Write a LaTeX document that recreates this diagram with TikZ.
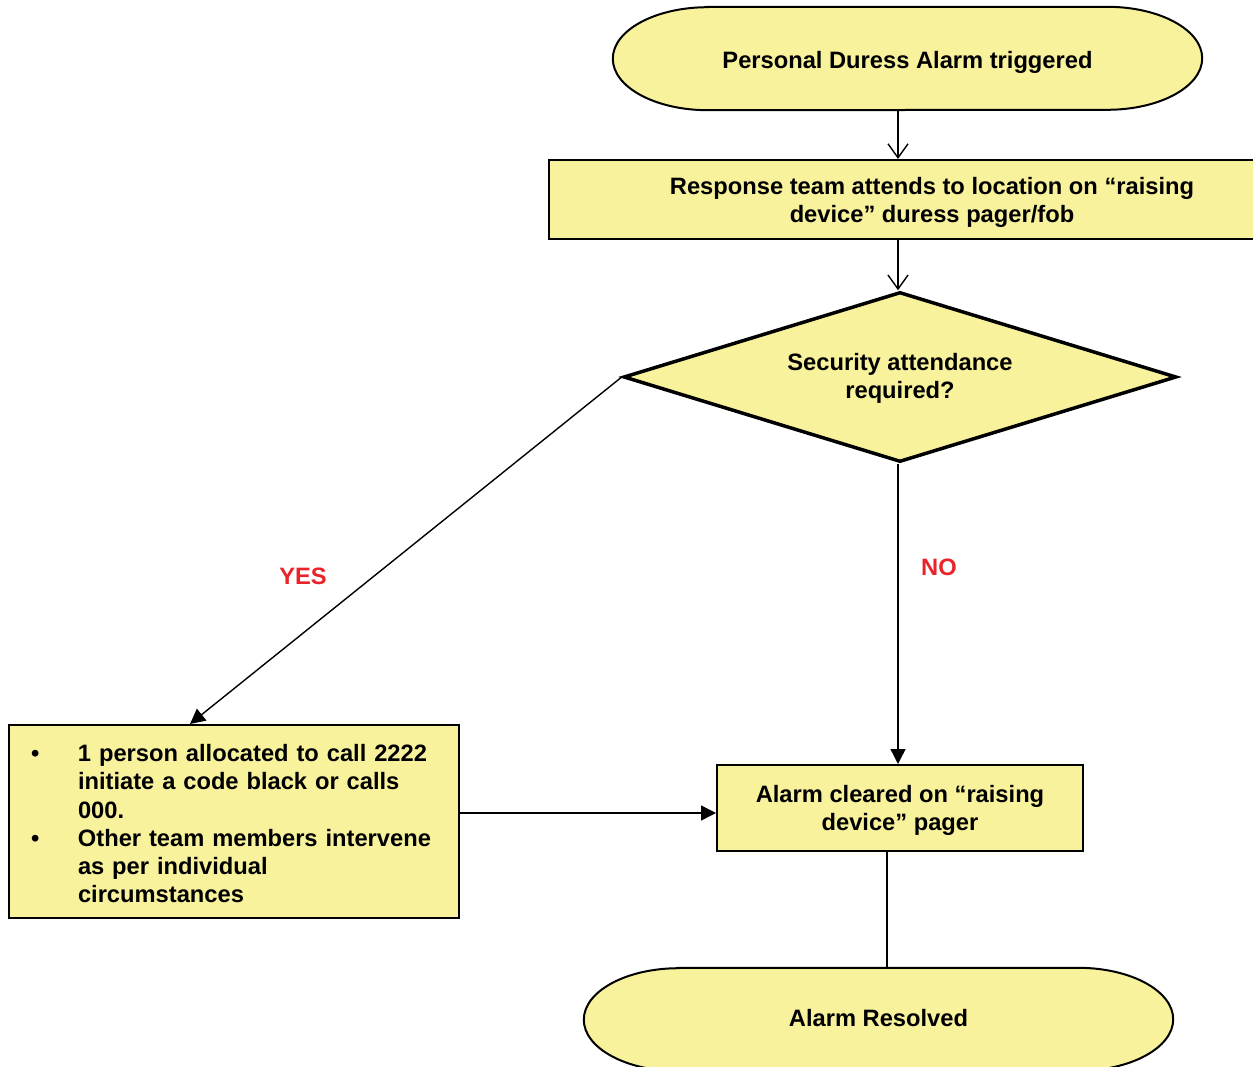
\documentclass[tikz,border=0pt]{standalone}
\usepackage{fontspec}
\setmainfont{Liberation Sans}
\usetikzlibrary{arrows.meta,shapes.geometric}
\definecolor{fillY}{HTML}{F8F29C}
\definecolor{labR}{HTML}{E8232A}
\pgfdeclarelayer{bg}
\pgfsetlayers{bg,main}
\newcommand\shtext[2]{\raisebox{-#1pt}[\height][\depth]{\begin{tabular}{@{}c@{}}#2\end{tabular}}}
\begin{document}
\begin{tikzpicture}[x=1pt,y=-1pt,
  every node/.style={font=\fontsize{23.7}{28.2}\selectfont\bfseries},
  box/.style={draw, fill=fillY, line width=2pt, inner sep=0pt, align=center},
  termnode/.style={inner sep=0pt, minimum width=589pt, minimum height=103pt, align=center},
  termline/.style={draw, fill=fillY, line width=2pt},
  decision/.style={diamond, draw, fill=fillY, line width=3.5pt, inner sep=0pt, aspect=3.2,
    minimum width=553pt, minimum height=170pt, align=center},
  conn/.style={line width=1.4pt},
  openarrow/.style={conn, -{Straight Barb[length=14pt,width=20pt,line width=1.4pt]}},
  fillarrow/.style={conn, -{Triangle[length=15pt,width=15pt]}},
  lab/.style={text=labR}
]
\useasboundingbox (0,0) rectangle (1253,1067);
\clip (0,0) rectangle (1253,1067);

% terminals
\node[termnode] (t1) at (907.5,58.5) {\shtext{4}{Personal Duress Alarm triggered}};
\node[termnode] (t2) at (878.5,1019.5) {\shtext{1}{Alarm Resolved}};
\begin{pgfonlayer}{bg}
\foreach \t in {t1,t2}{
  \draw[termline] ([xshift=95pt]\t.north west) -- ([xshift=-95pt]\t.north east)
    arc[start angle=-90,end angle=90,x radius=95,y radius=51.5]
    -- ([xshift=95pt]\t.south west)
    arc[start angle=90,end angle=270,x radius=95,y radius=51.5] -- cycle;
}
\end{pgfonlayer}

% process boxes
\node[box, minimum width=766pt, minimum height=79pt] (resp) at (932,199.5)
  {\shtext{3}{Response team attends to location on “raising\\device” duress pager/fob}};
\node[decision] (dec) at (900,377) {\shtext{2}{Security attendance\\required?}};
\node[box, minimum width=366pt, minimum height=86pt] (clr) at (900,808)
  {\shtext{3}{Alarm cleared on “raising\\device” pager}};
\node[box, minimum width=450pt, minimum height=193pt, text width=410pt, align=left] (act) at (234,821.5)
  {\raisebox{-5pt}[\height][\depth]{\begin{tabular}{@{}p{49pt}@{}l@{}}
   \hspace{2pt}\textbullet & 1 person allocated to call 2222\\
               & initiate a code black or calls\\
               & 000.\\
   \hspace{2pt}\textbullet & Other team members intervene\\
               & as per individual\\
               & circumstances
   \end{tabular}}};

% labels
\node[lab] (yes) at (303,576) {YES};
\node[lab] (no) at (939,567) {NO};

% connectors
\coordinate (c1) at (898,0);
\draw[openarrow] (t1.south -| c1) -- (resp.north -| c1);
\draw[openarrow] (resp.south -| c1) -- (dec.north -| c1);
\draw[fillarrow] (dec.south -| c1) -- (clr.north -| c1);
\draw[fillarrow] (dec.west) -- ([xshift=-44pt]act.north);
\draw[fillarrow] ([yshift=-5pt]act.east |- clr.west) -- ([yshift=-5pt]clr.west);
\draw[conn] ([xshift=-13pt]clr.south) -- ([xshift=-13pt]clr.south |- t2.north);
\end{tikzpicture}
\end{document}
